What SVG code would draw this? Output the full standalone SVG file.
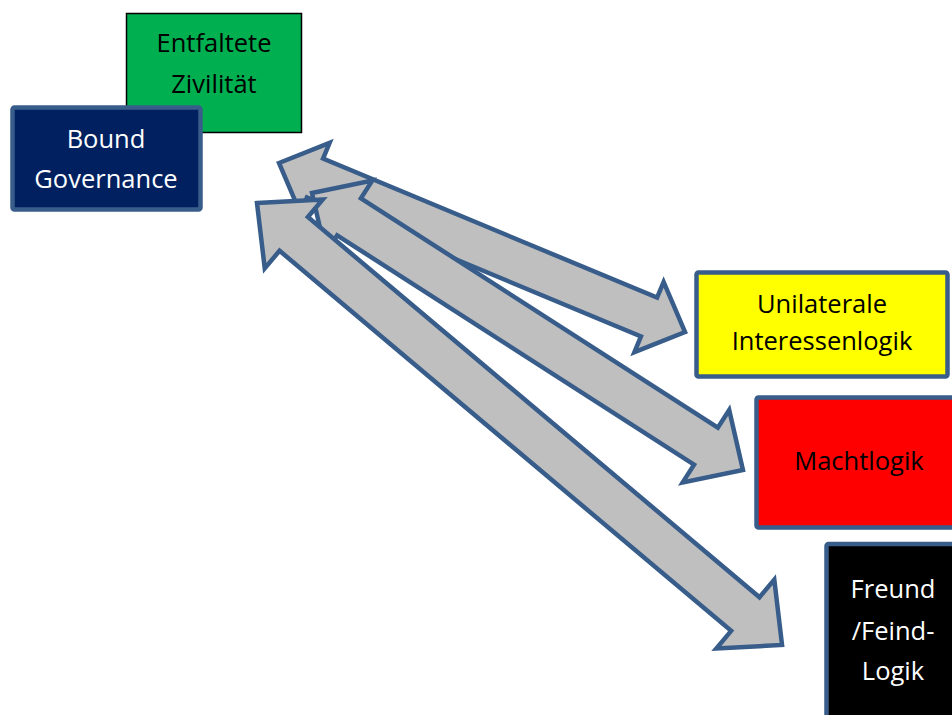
<svg xmlns="http://www.w3.org/2000/svg" width="952" height="715" viewBox="0 0 952 715">
  <style>
    .lbl { font-family: "Open Sans", "Liberation Sans", sans-serif; font-size: 25.5px; text-anchor: middle; }
    .dark { fill: #000000; }
    .light { fill: #ffffff; }
    .box { stroke: #385d8a; stroke-width: 4.5; }
    .arrow { fill: #bfbfbf; stroke: #385d8a; stroke-width: 4.5; stroke-linejoin: miter; stroke-miterlimit: 10; }
  </style>

  <rect width="952" height="715" fill="#ffffff"/>

  <!-- nodes -->
  <g id="entfaltete-zivilitaet">
    <rect x="126.5" y="13.5" width="175" height="119" fill="#00b050" stroke="#000000" stroke-width="1.5"/>
    <text class="lbl dark" x="214" y="52">Entfaltete</text>
    <text class="lbl dark" x="214" y="93">Zivilität</text>
  </g>

  <g id="bound-governance">
    <rect class="box" x="12.5" y="107.5" width="188" height="102" rx="2" fill="#002060"/>
    <text class="lbl light" x="106" y="148">Bound</text>
    <text class="lbl light" x="106" y="188">Governance</text>
  </g>

  <g id="unilaterale-interessenlogik">
    <rect class="box" x="696.5" y="272.5" width="251" height="104" rx="2" fill="#ffff00"/>
    <text class="lbl dark" x="822" y="313">Unilaterale</text>
    <text class="lbl dark" x="822" y="350">Interessenlogik</text>
  </g>

  <g id="machtlogik">
    <rect class="box" x="756.5" y="397.5" width="206" height="130" rx="2" fill="#ff0000"/>
    <text class="lbl dark" x="859" y="470">Machtlogik</text>
  </g>

  <g id="freund-feind-logik">
    <rect class="box" x="826.5" y="544" width="136" height="190" rx="2" fill="#000000"/>
    <text class="lbl light" x="893" y="598">Freund</text>
    <text class="lbl light" x="893" y="640">/Feind-</text>
    <text class="lbl light" x="893" y="680">Logik</text>
  </g>

  <!-- double-headed block arrows, drawn from the left tip along +x -->
  <g id="connectors">
    <polygon class="arrow" transform="translate(279 163) rotate(22.6)"
      points="0,0 39,-38 39,-21 400.8,-21 400.8,-38 439.8,0 400.8,38 400.8,21 39,21 39,38"/>
    <polygon class="arrow" transform="translate(312 193) rotate(32.73)"
      points="0,0 44,-43 44,-22 468.3,-22 468.3,-43 512.3,0 468.3,43 468.3,22 44,22 44,43"/>
    <polygon class="arrow" transform="translate(257 203) rotate(40.09)"
      points="0,0 48,-45 48,-22 638.3,-22 638.3,-45 686.3,0 638.3,45 638.3,22 48,22 48,45"/>
  </g>
</svg>
